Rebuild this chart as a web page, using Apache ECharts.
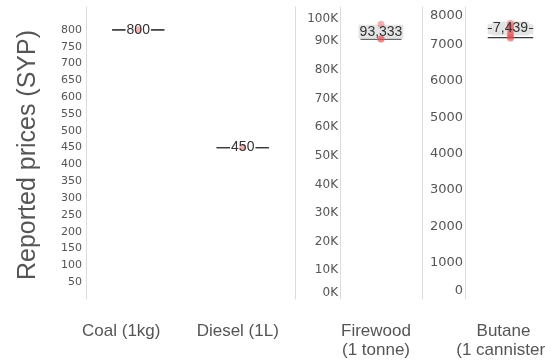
<!DOCTYPE html>
<html><head><meta charset="utf-8">
<script src="https://cdn.jsdelivr.net/npm/echarts@6/dist/echarts.min.js"></script>
<style>html,body{margin:0;padding:0;background:#fff}#c{width:545px;height:362px}</style>
</head><body><div id="c"></div>
<script>
// ---- data ----
const categories = ['Coal (1kg)', 'Diesel (1L)', 'Firewood\n(1 tonne)', 'Butane\n(1 cannister)'];
const pointValues = [[800], [450], [90800, 90800, 96000], [7170, 7200, 7250, 7300, 7400, 7450, 7500, 7580]];
const medianValues = [800, 450, 90800, 7190];
const boxLow = [800, 450, 90800, 7280];
const boxHigh = [800, 450, 95300, 7555];
const meanValues = [800, 450, 93333, 7439];
const ticksCoalDiesel = [50, 100, 150, 200, 250, 300, 350, 400, 450, 500, 550, 600, 650, 700, 750, 800];
const ticksFirewood = [0, 10000, 20000, 30000, 40000, 50000, 60000, 70000, 80000, 90000, 100000];
const ticksButane = [0, 1000, 2000, 3000, 4000, 5000, 6000, 7000, 8000];

// panels: which categories go on which axis
const panels = [[0, 1], [2], [3]];

// ---- styles ----
const GRAY = '#555';
const AXIS_LINE = '#dcdcdc';
const BOX = '#e4e4e4';
const DOT = 'rgba(226,80,82,0.55)';
const TICK_FONT = 'DejaVu Sans, sans-serif';
const labelShift = [17, 5, 5, 7]; // leftward shift of category headers
const gridDefs = [
  { left: 86, top: 7, width: 209, height: 292, outerBoundsMode: 'none', containLabel: false },
  { left: 340, top: 7, width: 82, height: 292, outerBoundsMode: 'none', containLabel: false },
  { left: 465, top: 7, width: 91, height: 292, outerBoundsMode: 'none', containLabel: false }
];
const axisMax = [868, 102000, 8030];
const axisInterval = [50, 10000, 1000];

function headerFormatter(ci) {
  return categories[ci].split('\n').map(s => '{h' + ci + '|' + s + '}').join('\n');
}
function headerRich() {
  const r = {};
  categories.forEach((c, i) => {
    r['h' + i] = { fontFamily: 'Liberation Sans Narrow, Liberation Sans, sans-serif', fontSize: 17, color: GRAY, lineHeight: 19, padding: [0, labelShift[i] * 2, 0, 0] };
  });
  return r;
}

const tickRich = {
  a: { fontFamily: TICK_FONT, fontSize: 11, color: GRAY },
  n: { fontFamily: TICK_FONT, fontSize: 12, color: GRAY },
  lo: { fontFamily: TICK_FONT, fontSize: 12, color: GRAY, padding: [0, 0, 13, 0] },
  hi: { fontFamily: TICK_FONT, fontSize: 12, color: GRAY, padding: [12, 0, 0, 0] },
  n2: { fontFamily: TICK_FONT, fontSize: 13, color: GRAY },
  lo2: { fontFamily: TICK_FONT, fontSize: 13, color: GRAY, padding: [0, 0, 17, 0] },
  hi2: { fontFamily: TICK_FONT, fontSize: 13, color: GRAY, padding: [16, 0, 0, 0] }
};
const tickFormatters = [
  v => ticksCoalDiesel.includes(v) ? '{a|' + v + '}' : '',
  v => {
    if (!ticksFirewood.includes(v)) return '';
    const t = (v / 1000) + 'K';
    if (v === ticksFirewood[0]) return '{lo|' + t + '}';
    if (v === ticksFirewood[ticksFirewood.length - 1]) return '{hi|' + t + '}';
    return '{n|' + t + '}';
  },
  v => {
    if (!ticksButane.includes(v)) return '';
    if (v === ticksButane[0]) return '{lo2|' + v + '}';
    if (v === ticksButane[ticksButane.length - 1]) return '{hi2|' + v + '}';
    return '{n2|' + v + '}';
  }
];

const xAxis = [], yAxis = [], series = [];
panels.forEach((cats, p) => {
  xAxis.push({
    type: 'category', gridIndex: p, data: cats.map(c => categories[c]),
    axisLine: { show: false }, axisTick: { show: false }, splitLine: { show: false },
    axisLabel: {
      interval: 0, margin: 23, verticalAlign: 'top', hideOverlap: false,
      formatter: (val, idx) => headerFormatter(cats[idx]),
      rich: headerRich()
    }
  });
  yAxis.push({
    type: 'value', gridIndex: p, min: 0, max: axisMax[p], interval: axisInterval[p],
    axisLine: { show: true, lineStyle: { color: AXIS_LINE } },
    axisTick: { show: false }, splitLine: { show: false },
    axisLabel: { margin: p === 0 ? 4 : 2, color: GRAY, formatter: tickFormatters[p], rich: tickRich, showMaxLabel: false, hideOverlap: false }
  });
  if (p < 2) {
    yAxis.push({
      type: 'value', gridIndex: p, position: 'right', min: 0, max: axisMax[p],
      axisLine: { show: true, lineStyle: { color: AXIS_LINE } },
      axisTick: { show: false }, splitLine: { show: false }, axisLabel: { show: false }
    });
  }
});
// index of the main y axis for each panel
const yIdx = [0, 2, 4];

function fmt(v) { return v.toLocaleString('en-US'); }
const LABEL_STYLE = { fontSize: 14, fontFamily: 'Liberation Sans, sans-serif', align: 'center', verticalAlign: 'middle' };

panels.forEach((cats, p) => {
  const summary = cats.map((c, i) => [i, boxLow[c], boxHigh[c], medianValues[c], meanValues[c]]);
  // boxes, median and mean lines, label background
  series.push({
    type: 'custom', xAxisIndex: p, yAxisIndex: yIdx[p], z: 2, silent: true,
    data: summary,
    renderItem: (params, api) => {
      const x = api.value(0);
      const lo = api.coord([x, api.value(1)]);
      const hi = api.coord([x, api.value(2)]);
      const md = api.coord([x, api.value(3)]);
      const mn = api.coord([x, api.value(4)]);
      const bw = api.size([1, 0])[0] * 0.5;
      const cx = lo[0];
      const hasBox = api.value(2) > api.value(1);
      const children = [];
      if (hasBox) children.push({ type: 'rect', shape: { x: cx - bw / 2, y: hi[1], width: bw, height: lo[1] - hi[1] }, style: { fill: BOX } });
      children.push({ type: 'line', shape: { x1: cx - bw / 2, y1: md[1], x2: cx + bw / 2, y2: md[1] }, style: { stroke: '#3a3a3a', lineWidth: 1.2 } });
      children.push({ type: 'line', shape: { x1: cx - bw / 2, y1: mn[1], x2: cx + bw / 2, y2: mn[1] }, style: { stroke: '#3a3a3a', lineWidth: 1.2 } });
      children.push({ type: 'text', x: cx, y: mn[1], style: Object.assign({ text: fmt(api.value(4)), fill: 'rgba(0,0,0,0)', backgroundColor: hasBox ? BOX : '#fff', padding: [0, 1] }, LABEL_STYLE) });
      return { type: 'group', children };
    }
  });
  // individual reported prices
  const pts = [];
  cats.forEach((c, i) => pointValues[c].forEach(v => pts.push([i, v])));
  series.push({
    type: 'scatter', xAxisIndex: p, yAxisIndex: yIdx[p], z: 3, silent: true,
    data: pts, symbolSize: 7, itemStyle: { color: DOT }
  });
  // mean labels
  series.push({
    type: 'custom', xAxisIndex: p, yAxisIndex: yIdx[p], z: 4, silent: true,
    data: summary,
    renderItem: (params, api) => {
      const x = api.value(0);
      const mn = api.coord([x, api.value(4)]);
      return { type: 'text', x: mn[0], y: mn[1], style: Object.assign({ text: fmt(api.value(4)), fill: '#333' }, LABEL_STYLE) };
    }
  });
});

const chart = echarts.init(document.getElementById('c'), null, { renderer: 'canvas' });
chart.setOption({
  animation: false,
  backgroundColor: '#fff',
  grid: gridDefs,
  xAxis, yAxis, series,
  graphic: [{
    type: 'text', x: 28, y: 155, rotation: Math.PI / 2,
    style: { text: 'Reported prices (SYP)', fontSize: 25, fill: GRAY, align: 'center', verticalAlign: 'middle', fontFamily: 'Liberation Sans, sans-serif' }
  }]
});
</script></body></html>
